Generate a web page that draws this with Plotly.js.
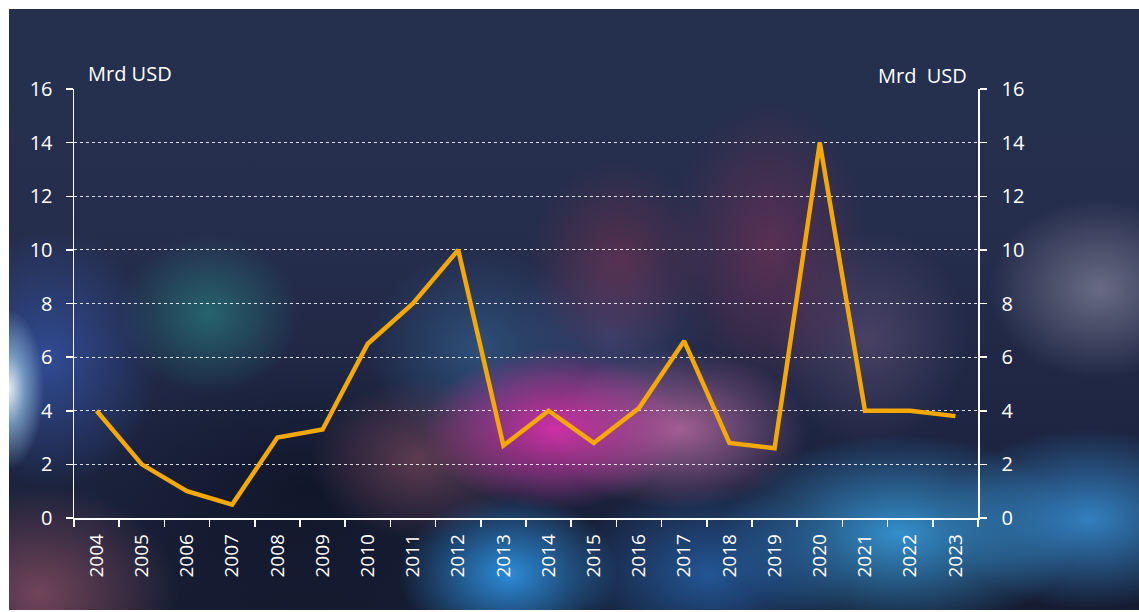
<!DOCTYPE html>
<html>
<head>
<meta charset="utf-8">
<script src="https://cdn.plot.ly/plotly-3.0.1.min.js"></script>
<style>
  html, body { margin: 0; padding: 0; background: #ffffff; width: 1139px; height: 612px; overflow: hidden; }
  #bg {
    position: absolute; left: 9px; top: 9px; width: 1130px; height: 601px;
    background:
      radial-gradient(ellipse 35px 80px at 0px 380px, rgba(235,248,255,0.95), rgba(160,205,235,0.6) 45%, rgba(60,100,170,0) 100%),
      radial-gradient(ellipse 110px 130px at 40px 350px, rgba(60,100,200,0.6), rgba(60,100,200,0) 100%),
      radial-gradient(ellipse 140px 110px at 30px 585px, rgba(130,75,95,0.85), rgba(130,75,95,0) 100%),
      radial-gradient(ellipse 90px 80px at 200px 305px, rgba(40,130,130,0.65), rgba(40,130,130,0) 100%),
      radial-gradient(ellipse 130px 80px at 545px 420px, rgba(225,50,175,0.9), rgba(205,60,165,0.45) 60%, rgba(200,60,160,0) 100%),
      radial-gradient(ellipse 130px 80px at 670px 420px, rgba(205,115,175,0.75), rgba(205,115,175,0) 100%),
      radial-gradient(ellipse 110px 80px at 410px 450px, rgba(130,75,95,0.65), rgba(130,75,95,0) 100%),
      radial-gradient(ellipse 110px 80px at 500px 565px, rgba(45,145,225,0.95), rgba(45,145,225,0) 100%),
      radial-gradient(ellipse 140px 90px at 700px 565px, rgba(40,110,190,0.7), rgba(40,110,190,0) 100%),
      radial-gradient(ellipse 180px 100px at 890px 525px, rgba(55,155,220,0.9), rgba(55,155,220,0) 100%),
      radial-gradient(ellipse 150px 90px at 1080px 510px, rgba(55,145,215,0.85), rgba(55,145,215,0) 100%),
      radial-gradient(ellipse 110px 90px at 1090px 280px, rgba(150,150,170,0.6), rgba(150,150,170,0) 100%),
      radial-gradient(ellipse 100px 150px at 760px 240px, rgba(125,50,90,0.6), rgba(125,50,90,0) 100%),
      radial-gradient(ellipse 90px 100px at 610px 250px, rgba(135,50,80,0.5), rgba(135,50,80,0) 100%),
      radial-gradient(ellipse 110px 100px at 470px 340px, rgba(55,105,155,0.6), rgba(55,105,155,0) 100%),
      radial-gradient(ellipse 100px 110px at 860px 330px, rgba(105,85,125,0.55), rgba(105,85,125,0) 100%),
      radial-gradient(ellipse 100px 100px at 600px 330px, rgba(80,90,150,0.45), rgba(80,90,150,0) 100%),
      radial-gradient(ellipse 220px 130px at 300px 480px, rgba(10,15,30,0.6), rgba(10,15,30,0) 100%),
      linear-gradient(180deg, #25304f 0%, #252d4c 40%, #1d2542 70%, #151c31 100%);
  }
  #chart { position: absolute; left: 9px; top: 9px; width: 1130px; height: 601px; }
</style>
</head>
<body>
<div id="bg"></div>
<div id="chart"></div>
<script>
const years = ['2004','2005','2006','2007','2008','2009','2010','2011','2012','2013',
               '2014','2015','2016','2017','2018','2019','2020','2021','2022','2023'];
const values = [4.0, 2.0, 1.0, 0.5, 3.0, 3.3, 6.5, 8.0, 10.0, 2.7,
                4.0, 2.8, 4.1, 6.6, 2.8, 2.6, 14.0, 4.0, 4.0, 3.8];
const yTicks = [0, 2, 4, 6, 8, 10, 12, 14, 16];
const leftUnit = 'Mrd USD';
const rightUnit = 'Mrd&nbsp;&nbsp;USD';

const font = {family: 'Open Sans, DejaVu Sans, sans-serif', size: 20, color: '#ffffff'};

const traces = [
  {x: years, y: values, type: 'scatter', mode: 'lines',
   line: {color: '#f5a800', width: 4.5}, hoverinfo: 'x+y'},
  {x: years, y: values, type: 'scatter', mode: 'lines', yaxis: 'y2',
   line: {color: 'rgba(0,0,0,0)', width: 0}, hoverinfo: 'skip', showlegend: false}
];

const layout = {
  width: 1130, height: 601,
  paper_bgcolor: 'rgba(0,0,0,0)', plot_bgcolor: 'rgba(0,0,0,0)',
  margin: {l: 65, r: 161, t: 80, b: 92},
  showlegend: false,
  font: font,
  xaxis: {
    type: 'category', categoryorder: 'array', categoryarray: years,
    tickangle: -90, tickfont: {family: font.family, size: 19, color: '#ffffff'},
    showline: true, linecolor: '#ffffff', linewidth: 1.5,
    ticks: 'outside', tickson: 'boundaries', ticklen: 7, tickcolor: '#ffffff', tickwidth: 1.5,
    ticklabelstandoff: 7,
    showgrid: false, zeroline: false, range: [-0.5, 19.5]
  },
  yaxis: {
    range: [0, 16], tickvals: yTicks, tickfont: font,
    showline: true, linecolor: '#ffffff', linewidth: 1.5,
    ticks: 'outside', ticklen: 7, tickcolor: '#ffffff', tickwidth: 1.5,
    ticklabelstandoff: 9,
    showgrid: true, gridcolor: 'rgba(255,255,255,0.85)', gridwidth: 1, griddash: 'dot',
    zeroline: false
  },
  yaxis2: {
    range: [0, 16], tickvals: yTicks, tickfont: font,
    overlaying: 'y', side: 'right',
    showline: true, linecolor: '#ffffff', linewidth: 1.5,
    ticks: 'outside', ticklen: 7, tickcolor: '#ffffff', tickwidth: 1.5,
    ticklabelstandoff: 11,
    showgrid: false, zeroline: false
  },
  annotations: [
    {text: leftUnit, xref: 'paper', yref: 'paper', x: 0.013, y: 1.0, xanchor: 'left', yanchor: 'bottom',
     yshift: 0, showarrow: false, font: font},
    {text: rightUnit, xref: 'paper', yref: 'paper', x: 0.99, y: 1.0, xanchor: 'right', yanchor: 'bottom',
     yshift: -2, showarrow: false, font: font}
  ]
};

Plotly.newPlot('chart', traces, layout, {displayModeBar: false, staticPlot: true});
</script>
</body>
</html>
